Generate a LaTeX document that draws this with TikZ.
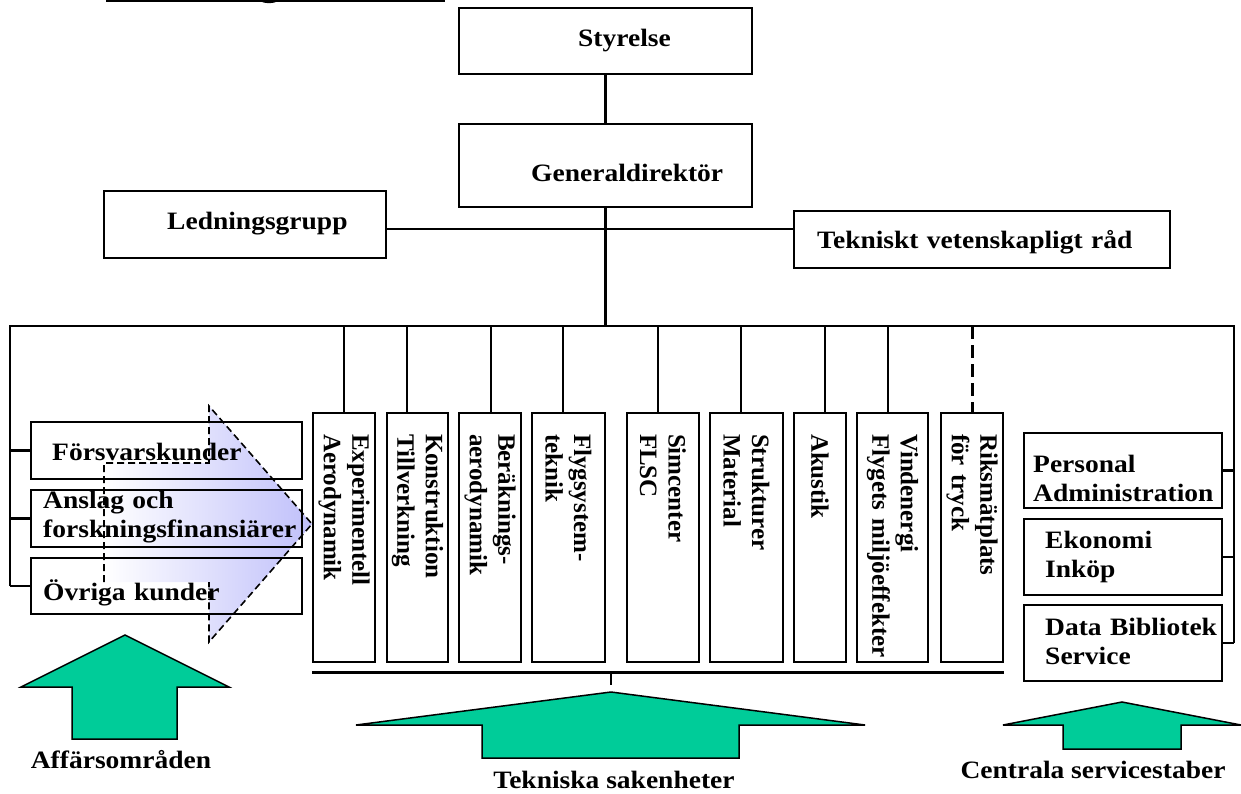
\documentclass[tikz,border=0pt]{standalone}
\usepackage{fontspec}
\setmainfont{Liberation Serif}[FakeStretch=1.1]
\newfontfamily\uprightfam{Liberation Serif}
\definecolor{boxgreen}{RGB}{0,204,153}
\definecolor{lavender}{RGB}{192,192,250}
\newcommand{\vln}{\hspace*{19pt}}
\tikzset{
  box/.style={draw, line width=1.6pt, inner sep=0pt},
  txt/.style={font=\fontsize{25}{29.5}\selectfont\bfseries, inner sep=0pt,
              align=left, text width=265pt},
  lbl/.style={font=\fontsize{25}{29.5}\selectfont\bfseries, inner sep=0pt},
  vbox/.style={draw, line width=1.6pt, rotate=-90, minimum width=249pt,
               inner xsep=2pt, inner ysep=0pt, text width=245pt, align=left,
               font=\uprightfam\fontsize{25}{28.5}\selectfont\bfseries},
  wire/.style={line width=2.5pt},
  bigarrow/.style={fill=boxgreen, draw, line width=1.5pt, line join=miter},
}
\begin{document}
\begin{tikzpicture}[x=1pt,y=-1pt]
\useasboundingbox (0,0) rectangle (1241,794);

% heading rule at the top edge
\draw[line width=1.5pt] (106,1.2) -- (445,1.2);
\fill (269,1.5) ellipse (7 and 1.6);

% management level
\node[box, minimum width=293pt, minimum height=66pt] (sty) at (605.5,41) {};
\node[txt, anchor=base west] (styT) at (578,47) {Styrelse};
\node[box, minimum width=293pt, minimum height=83pt] (gd) at (605.5,165.5) {};
\node[txt, anchor=base west] (gdT) at (531,182) {Generaldirektör};
\node[box, minimum width=282pt, minimum height=67pt] (led) at (245,224.5) {};
\node[txt, anchor=base west] (ledT) at (167,230) {Ledningsgrupp};
\node[box, minimum width=376pt, minimum height=57pt] (tek) at (982,239.5) {};
\node[txt, anchor=base west, text width=330pt] (tekT) at (817,249) {Tekniskt vetenskapligt råd};

\coordinate (busL) at (10,326);
\coordinate (busR) at (1234,326);
\coordinate (lt) at (606,229);

\draw[wire] (sty.south) -- (gd.north);
\draw[wire] (gd.south) -- (gd.south |- busL);
\draw[wire] (lt -| led.east) -- (lt -| tek.west);

% business areas: shaded arrow behind the customer boxes
\shade[left color=white, right color=lavender]
  (104,463) -- (209,463) -- (209,406) -- (312,524) -- (209,642) -- (209,582) -- (104,582) -- cycle;

\node[box, minimum width=271pt, minimum height=57pt] (f1) at (166.5,450.5) {};
\node[txt, anchor=base west] (f1T) at (52,460) {Försvarskunder};
\node[box, minimum width=271pt, minimum height=57pt] (f2) at (166.5,518.5) {};
\node[txt, anchor=base west] (f2T) at (43,508) {Anslag och\\forskningsfinansiärer};
\node[box, minimum width=271pt, minimum height=56pt] (f3) at (166.5,586) {};
\node[txt, anchor=base west] (f3T) at (43,600) {Övriga kunder};

\draw[dash pattern=on 7pt off 4pt, line width=1.6pt]
  (104,582) -- (104,463) -- (209,463) -- (209,406) -- (312,524) -- (209,642) -- (209,582);

% technical units
\node[vbox, minimum height=62pt] (exp) at (344,537.5) {\vln Experimentell\\\vln Aerodynamik};
\node[vbox, minimum height=61pt] (kon) at (417.5,537.5) {\vln Konstruktion\\\vln Tillverkning};
\node[vbox, minimum height=62pt] (ber) at (490,537.5) {\vln Beräknings-\\\vln aerodynamik};
\node[vbox, minimum height=73pt] (fly) at (568.5,537.5) {\vln Flygsystem-\\\vln teknik};
\node[vbox, minimum height=72pt] (sim) at (663,537.5) {\vln Simcenter\\\vln FLSC};
\node[vbox, minimum height=73pt] (str) at (746.5,537.5) {\vln Strukturer\\\vln Material};
\node[vbox, minimum height=52pt] (aku) at (820,537.5) {\vln Akustik};
\node[vbox, minimum height=71pt] (vin) at (892.5,537.5) {\vln Vindenergi\\\vln\mbox{Flygets miljöeffekter}};
\node[vbox, minimum height=62pt] (rik) at (972,537.5) {\vln Riksmätplats\\\vln för tryck};

\coordinate (s1) at (344,326);
\coordinate (s2) at (407,326);
\coordinate (s3) at (491,326);
\coordinate (s4) at (563,326);
\coordinate (s5) at (658,326);
\coordinate (s6) at (741,326);
\coordinate (s7) at (825,326);
\coordinate (s8) at (888,326);
\coordinate (s9) at (972,326);
\draw[wire] (s1) -- (s1 |- exp.west);
\draw[wire] (s2) -- (s2 |- kon.west);
\draw[wire] (s3) -- (s3 |- ber.west);
\draw[wire] (s4) -- (s4 |- fly.west);
\draw[wire] (s5) -- (s5 |- sim.west);
\draw[wire] (s6) -- (s6 |- str.west);
\draw[wire] (s7) -- (s7 |- aku.west);
\draw[wire] (s8) -- (s8 |- vin.west);
\draw[line width=3pt, dash pattern=on 13pt off 6pt] (s9) -- (s9 |- rik.west);

\draw[line width=3pt] ([yshift=-10pt]exp.south east) coordinate (bl) -- ([yshift=-10pt]rik.north east);
\coordinate (tk) at (611,672);
\draw[wire] (tk) -- ++(0,13);

% central staff functions
\node[box, minimum width=198pt, minimum height=75pt] (p1) at (1123,470.5) {};
\node[txt, anchor=base west, text width=190pt] (p1T) at (1033,472) {Personal\\Administration};
\node[box, minimum width=198pt, minimum height=76pt] (p2) at (1123,557) {};
\node[txt, anchor=base west, text width=180pt] (p2T) at (1045,548) {Ekonomi\\Inköp};
\node[box, minimum width=198pt, minimum height=76pt] (p3) at (1123,643) {};
\node[txt, anchor=base west, text width=180pt] (p3T) at (1045,635) {Data Bibliotek\\Service};

% the main bus with its side branches
\draw[wire] (busL |- f3.west) -- (busL) -- (busR) -- (busR |- p3.east);
\draw[wire] (busL |- f1.west) -- (f1.west);
\draw[wire] (busL |- f2.west) -- (f2.west);
\draw[wire] (busL |- f3.west) -- (f3.west);
\draw[wire] (p1.east) -- (busR |- p1.east);
\draw[wire] (p2.east) -- (busR |- p2.east);
\draw[wire] (p3.east) -- (busR |- p3.east);

% group arrows
\draw[bigarrow] (125,635) -- (229,687) -- (177,687) -- (177,739) -- (72,739) -- (72,687) -- (21,687) -- cycle;
\draw[bigarrow] (611,692) -- (865,725) -- (739,725) -- (739,758) -- (482,758) -- (482,725) -- (356,725) -- cycle;
\draw[bigarrow] (1122,702) -- (1241,725) -- (1181,725) -- (1181,749) -- (1063,749) -- (1063,725) -- (1003,725) -- cycle;

\node[lbl, anchor=base] (aff) at (121,768) {Affärsområden};
\node[lbl, anchor=base] (teks) at (614,788) {Tekniska sakenheter};
\node[lbl, anchor=base] (cen) at (1093,778) {Centrala servicestaber};
\end{tikzpicture}
\end{document}
